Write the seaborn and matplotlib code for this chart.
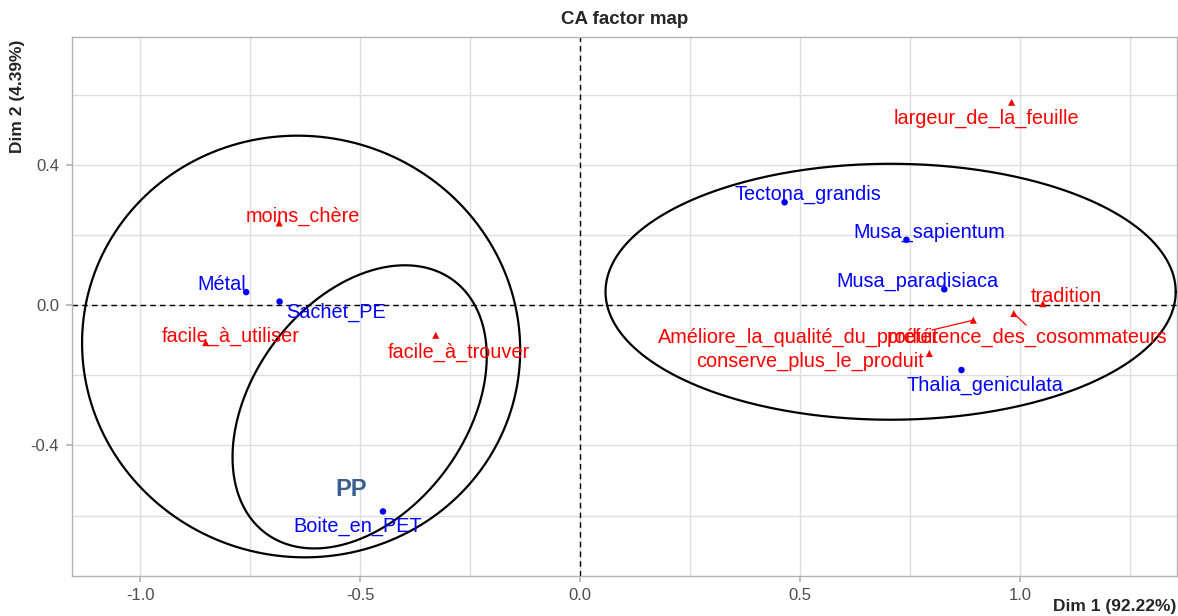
import numpy as np
import pandas as pd
import matplotlib.pyplot as plt
import seaborn as sns
from matplotlib.ticker import MultipleLocator

sns.set_theme(style='whitegrid')
plt.rcParams['font.family'] = ['Liberation Sans', 'DejaVu Sans']

# Lignes (emballages / especes) - Dim 1 et Dim 2
lignes = ['Métal', 'Sachet_PE', 'Boite_en_PET', 'Tectona_grandis',
          'Musa_sapientum', 'Musa_paradisiaca', 'Thalia_geniculata']
lignes_dim1 = [-0.759, -0.683, -0.448, 0.465, 0.742, 0.828, 0.867]
lignes_dim2 = [0.037, 0.010, -0.588, 0.293, 0.186, 0.045, -0.185]

# Colonnes (raisons)
colonnes = ['moins_chère', 'facile_à_utiliser', 'facile_à_trouver',
            'largeur_de_la_feuille', 'tradition', 'préférence_des_cosommateurs',
            'Améliore_la_qualité_du_produit', 'conserve_plus_le_produit']
colonnes_dim1 = [-0.684, -0.851, -0.328, 0.981, 1.052, 0.986, 0.894, 0.794]
colonnes_dim2 = [0.234, -0.107, -0.086, 0.578, 0.004, -0.024, -0.043, -0.138]

# Ellipses de regroupement (centre + matrice de forme)
ell_centres = [(-0.634, -0.118), (-0.501, -0.290), (0.706, 0.038)]
ell_formes = [[[0.248, -0.005], [-0.005, 0.361]],
              [[0.0835, 0.0415], [0.0415, 0.1628]],
              [[0.420, 0.0], [0.0, 0.133]]]

# Position des etiquettes (style ggrepel)
pos_lignes = [(-0.815, 0.060), (-0.555, -0.020), (-0.506, -0.632), (0.517, 0.316),
              (0.794, 0.206), (0.768, 0.067), (0.920, -0.230)]
pos_colonnes = [(-0.631, 0.254), (-0.795, -0.088), (-0.275, -0.134), (0.924, 0.531),
                (1.105, 0.024), (1.016, -0.092), (0.497, -0.092), (0.523, -0.161)]
segments = {'préférence_des_cosommateurs': (1.014, -0.057),
            'Améliore_la_qualité_du_produit': (0.800, -0.071)}

df_l = pd.DataFrame({'nom': lignes, 'Dim1': lignes_dim1, 'Dim2': lignes_dim2})
df_c = pd.DataFrame({'nom': colonnes, 'Dim1': colonnes_dim1, 'Dim2': colonnes_dim2})

fig = plt.figure(figsize=(11.78, 6.16), dpi=100)
ax = fig.add_axes([71.5 / 1178, 1 - 576 / 616, (1177 - 71.5) / 1178, (576 - 37) / 616])
ax.set_facecolor('white')

# axes a zero
ax.axhline(0, color='black', lw=1.0, ls=(0, (4, 3)), zorder=2)
ax.axvline(0, color='black', lw=1.0, ls=(0, (4, 3)), zorder=2)

# segments
for nom, (sx, sy) in segments.items():
    i = colonnes.index(nom)
    ax.plot([colonnes_dim1[i], sx], [colonnes_dim2[i], sy], color='red', lw=0.9, zorder=3)

sns.scatterplot(data=df_l, x='Dim1', y='Dim2', color='blue', marker='o', s=22,
                edgecolor='none', ax=ax, zorder=4, legend=False)
sns.scatterplot(data=df_c, x='Dim1', y='Dim2', color='red', marker='^', s=26,
                edgecolor='none', ax=ax, zorder=4, legend=False)

for nom, (tx, ty) in zip(lignes, pos_lignes):
    ax.text(tx, ty, nom, color='blue', fontsize=14.3, ha='center', va='center', zorder=5)
for nom, (tx, ty) in zip(colonnes, pos_colonnes):
    ax.text(tx, ty, nom, color='red', fontsize=14.3, ha='center', va='center', zorder=5)

# ellipses
t = np.linspace(0, 2 * np.pi, 400)
for (cx, cy), forme in zip(ell_centres, ell_formes):
    L = np.linalg.cholesky(np.array(forme))
    pts = L @ np.vstack([np.cos(t), np.sin(t)])
    ax.plot(cx + pts[0], cy + pts[1], color='black', lw=1.6, zorder=3)

ax.text(-0.520, -0.525, 'PP', color='#3A5F8F', fontsize=17, fontweight='bold',
        ha='center', va='center', zorder=5)

ax.set_xlim(-1.156, 1.357)
ax.set_ylim(-0.772, 0.764)
ax.xaxis.set_major_locator(MultipleLocator(0.5))
ax.xaxis.set_minor_locator(MultipleLocator(0.25))
ax.yaxis.set_major_locator(MultipleLocator(0.4))
ax.yaxis.set_minor_locator(MultipleLocator(0.2))
ax.xaxis.set_major_formatter(lambda v, p: f'{v:.1f}')
ax.yaxis.set_major_formatter(lambda v, p: f'{v:.1f}')
ax.grid(which='both', color='#DEDEDE', lw=1.0)
ax.set_axisbelow(True)
for sp in ax.spines.values():
    sp.set_color('#B3B3B3')
    sp.set_linewidth(1.0)
ax.tick_params(which='major', length=4, color='#B3B3B3', labelcolor='#4D4D4D',
               labelsize=12, pad=5, bottom=True, left=True)
ax.tick_params(which='minor', length=0)
ax.set_xlabel('')
ax.set_ylabel('')

ax.set_title('CA factor map', fontsize=13.5, fontweight='bold', pad=9)
fig.text(1176 / 1178, 1 - 607 / 616, 'Dim 1 (92.22%)', fontsize=12.5, fontweight='bold',
         ha='right', va='center')
fig.text(18 / 1178, 1 - 40 / 616, 'Dim 2 (4.39%)', fontsize=12.5, fontweight='bold',
         ha='center', va='top', rotation=90)

fig.savefig('out.png', dpi=100)
